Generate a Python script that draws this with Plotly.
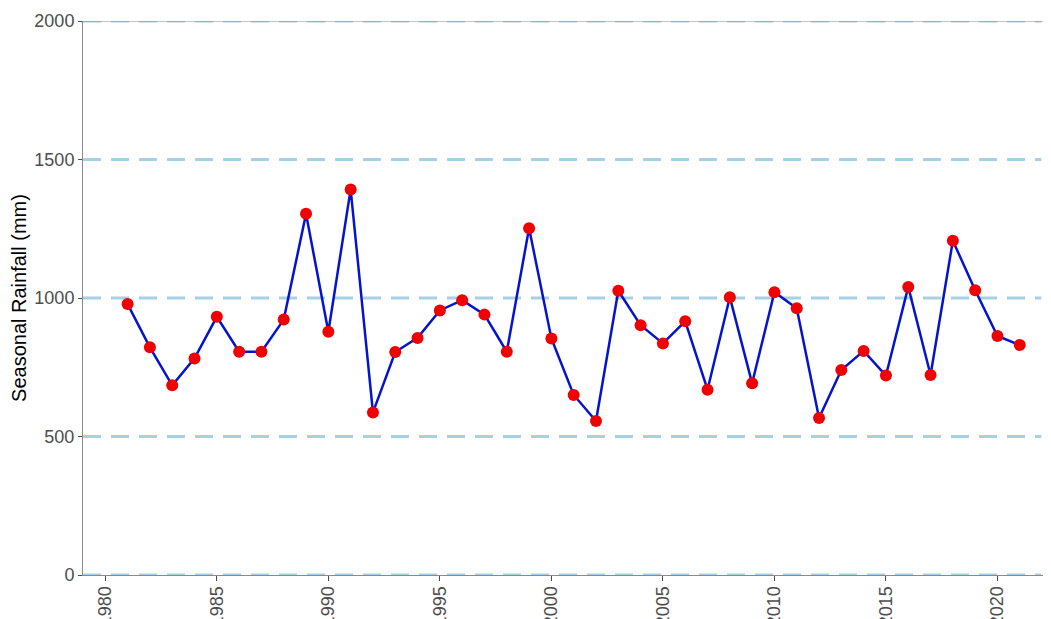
import plotly.graph_objects as go

years = list(range(1981, 2022))
rainfall = [978, 822, 685, 782, 932, 806, 806, 922, 1304, 878,
            1392, 587, 805, 856, 955, 992, 940, 806, 1252, 854,
            650, 556, 1026, 902, 836, 916, 669, 1003, 692, 1021,
            963, 567, 740, 809, 720, 1040, 722, 1207, 1028, 863, 830]
ref_levels = [0, 500, 1000, 1500, 2000]
x_ticks = [1980, 1985, 1990, 1995, 2000, 2005, 2010, 2015, 2020]
y_ticks = [0, 500, 1000, 1500, 2000]

fig = go.Figure()
fig.add_trace(go.Scatter(
    x=years, y=rainfall, mode="lines+markers",
    line=dict(color="#0514CC", width=2.5),
    marker=dict(color="#F00000", size=12, line=dict(width=0)),
    showlegend=False, cliponaxis=False,
))

for lv in ref_levels:
    fig.add_shape(type="line", xref="paper", yref="y", x0=0, x1=0.99, y0=lv, y1=lv,
                  line=dict(color="#A6D0E4", width=3, dash="18px,10px"), layer="below")
# thin top border line at 2000
fig.add_shape(type="line", xref="paper", yref="y", x0=0, x1=1, y0=2000, y1=2000,
              line=dict(color="#8a8a8a", width=1), layer="below")

# page body has an 8px margin, so the figure is sized to end at the window edge
fig.update_layout(
    width=1043, height=611,
    margin=dict(l=75, r=0, t=13, b=44),
    plot_bgcolor="white", paper_bgcolor="white",
    font=dict(family="Liberation Sans, Arial, sans-serif", color="#4D4D4D"),
)
fig.update_xaxes(
    range=[1979, 2022.4], tickvals=x_ticks, tickangle=-90, automargin=False,
    showgrid=False, zeroline=False,
    showline=True, linecolor="#8a8a8a", linewidth=1,
    ticks="outside", ticklen=5, tickcolor="#4D4D4D", tickwidth=1,
    tickfont=dict(size=18, color="#4D4D4D"), ticklabelstandoff=-2,
)
fig.update_yaxes(
    range=[0, 2000], tickvals=y_ticks, automargin=False,
    showgrid=False, zeroline=False,
    showline=True, linecolor="#8a8a8a", linewidth=1,
    ticks="outside", ticklen=4, tickcolor="#4D4D4D", tickwidth=1,
    tickfont=dict(size=18, color="#4D4D4D"),
    title=dict(text="Seasonal Rainfall (mm)", font=dict(size=20, color="black"), standoff=3),
)

fig.write_html("out.html")
